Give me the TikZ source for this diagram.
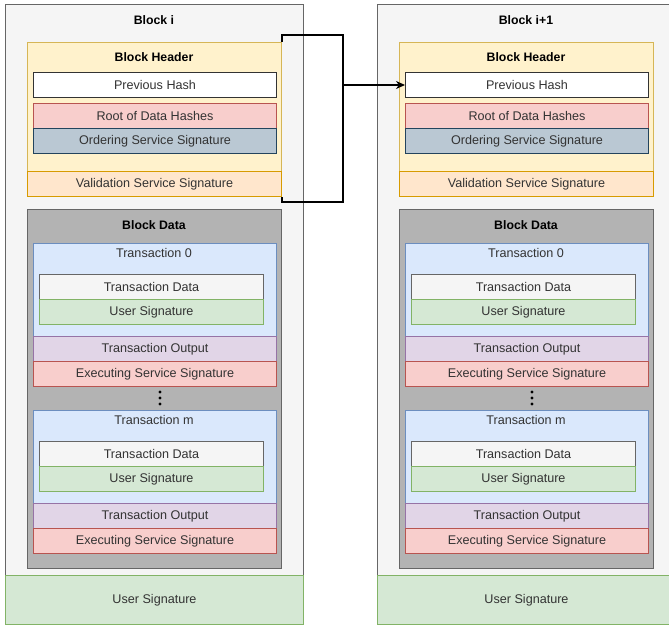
\documentclass[tikz,border=0pt]{standalone}
\usepackage{fontspec}
\setmainfont{Liberation Sans}
\usetikzlibrary{arrows.meta}
\definecolor{txt}{HTML}{333333}
\definecolor{gfill}{HTML}{F5F5F5}
\definecolor{gline}{HTML}{666666}
\definecolor{yfill}{HTML}{FFF2CC}
\definecolor{yline}{HTML}{D6B656}
\definecolor{rfill}{HTML}{F8CECC}
\definecolor{rline}{HTML}{B85450}
\definecolor{bgfill}{HTML}{BAC8D3}
\definecolor{bgline}{HTML}{23445D}
\definecolor{ofill}{HTML}{FFE6CC}
\definecolor{oline}{HTML}{D79B00}
\definecolor{dfill}{HTML}{B3B3B3}
\definecolor{bfill}{HTML}{DAE8FC}
\definecolor{bline}{HTML}{6C8EBF}
\definecolor{grfill}{HTML}{D5E8D4}
\definecolor{grline}{HTML}{82B366}
\definecolor{pfill}{HTML}{E1D5E7}
\definecolor{pline}{HTML}{9673A6}
\tikzset{
  bx/.style={draw, line width=1pt, inner sep=0pt, anchor=north west,
    font=\fontsize{12.6}{14}\selectfont, text=txt},
  ttl/.style={font=\fontsize{12.3}{14}\selectfont\bfseries, text=black, inner sep=0pt},
  sub/.style={font=\fontsize{12.6}{14}\selectfont, text=txt, inner sep=0pt},
  conn/.style={draw=black, line width=2pt},
}
\newcommand\drawblock[3]{%
\begin{scope}[xshift=#1pt]
  \node[bx, draw=gline, fill=gfill, minimum width=298pt, minimum height=571pt] (#2out) at (5,4) {};
  \node[ttl] (#2title) at (154,20) {#3};
  \node[bx, draw=grline, fill=grfill, minimum width=298pt, minimum height=49pt] (#2usig) at (5,575) {User Signature};
  % header
  \node[bx, draw=yline, fill=yfill, minimum width=254pt, minimum height=154pt] (#2hdr) at (27,42) {};
  \node[ttl] (#2hdrt) at (154,57) {Block Header};
  \node[bx, draw=txt, fill=white, minimum width=243pt, minimum height=25pt] (#2ph) at (33,72) {Previous Hash};
  \node[bx, draw=rline, fill=rfill, minimum width=243pt, minimum height=25pt] (#2root) at (33,103) {Root of Data Hashes};
  \node[bx, draw=bgline, fill=bgfill, minimum width=243pt, minimum height=25pt] (#2ord) at (33,128) {Ordering Service Signature};
  \node[bx, draw=oline, fill=ofill, minimum width=254pt, minimum height=25pt] (#2val) at (27,171) {Validation Service Signature};
  % data
  \node[bx, draw=gline, fill=dfill, minimum width=254pt, minimum height=359pt] (#2data) at (27,209) {};
  \node[ttl] (#2datat) at (154,225) {Block Data};
  % transaction 0
  \node[bx, draw=bline, fill=bfill, minimum width=243pt, minimum height=93pt] (#2tx0) at (33,243) {};
  \node[sub] (#2tx0t) at (154,253) {Transaction 0};
  \node[bx, draw=gline, fill=gfill, minimum width=224pt, minimum height=25pt] (#2td0) at (39,274) {Transaction Data};
  \node[bx, draw=grline, fill=grfill, minimum width=224pt, minimum height=25pt] (#2us0) at (39,299) {User Signature};
  \node[bx, draw=pline, fill=pfill, minimum width=243pt, minimum height=25pt] (#2to0) at (33,336) {Transaction Output};
  \node[bx, draw=rline, fill=rfill, minimum width=243pt, minimum height=25pt] (#2es0) at (33,361) {Executing Service Signature};
  % dots
  \fill (160,392) circle (1.7pt) (160,398) circle (1.7pt) (160,404) circle (1.7pt);
  % transaction m
  \node[bx, draw=bline, fill=bfill, minimum width=243pt, minimum height=93pt] (#2txm) at (33,410) {};
  \node[sub] (#2txmt) at (154,420) {Transaction m};
  \node[bx, draw=gline, fill=gfill, minimum width=224pt, minimum height=25pt] (#2tdm) at (39,441) {Transaction Data};
  \node[bx, draw=grline, fill=grfill, minimum width=224pt, minimum height=25pt] (#2usm) at (39,466) {User Signature};
  \node[bx, draw=pline, fill=pfill, minimum width=243pt, minimum height=25pt] (#2tom) at (33,503) {Transaction Output};
  \node[bx, draw=rline, fill=rfill, minimum width=243pt, minimum height=25pt] (#2esm) at (33,528) {Executing Service Signature};
\end{scope}}
\begin{document}
\begin{tikzpicture}[x=1pt, y=-1pt]
  \fill[white] (0,0) rectangle (669,626);
  \useasboundingbox (0,0) rectangle (669,626);
  \clip (0,0) rectangle (669,626);
  \drawblock{0}{L}{Block i}
  \drawblock{372}{R}{Block i+1}
  \coordinate (bk1) at (343,35);
  \coordinate (bk2) at (343,202);
  \coordinate (bkm) at (343,85);
  \draw[conn] (Lhdr.north east) |- (bk1) -- (bk2) -| (Lhdr.south east);
  \draw[conn, -{Stealth[length=9pt,width=8pt]}] (bkm) -- (Rph.west);
\end{tikzpicture}
\end{document}
